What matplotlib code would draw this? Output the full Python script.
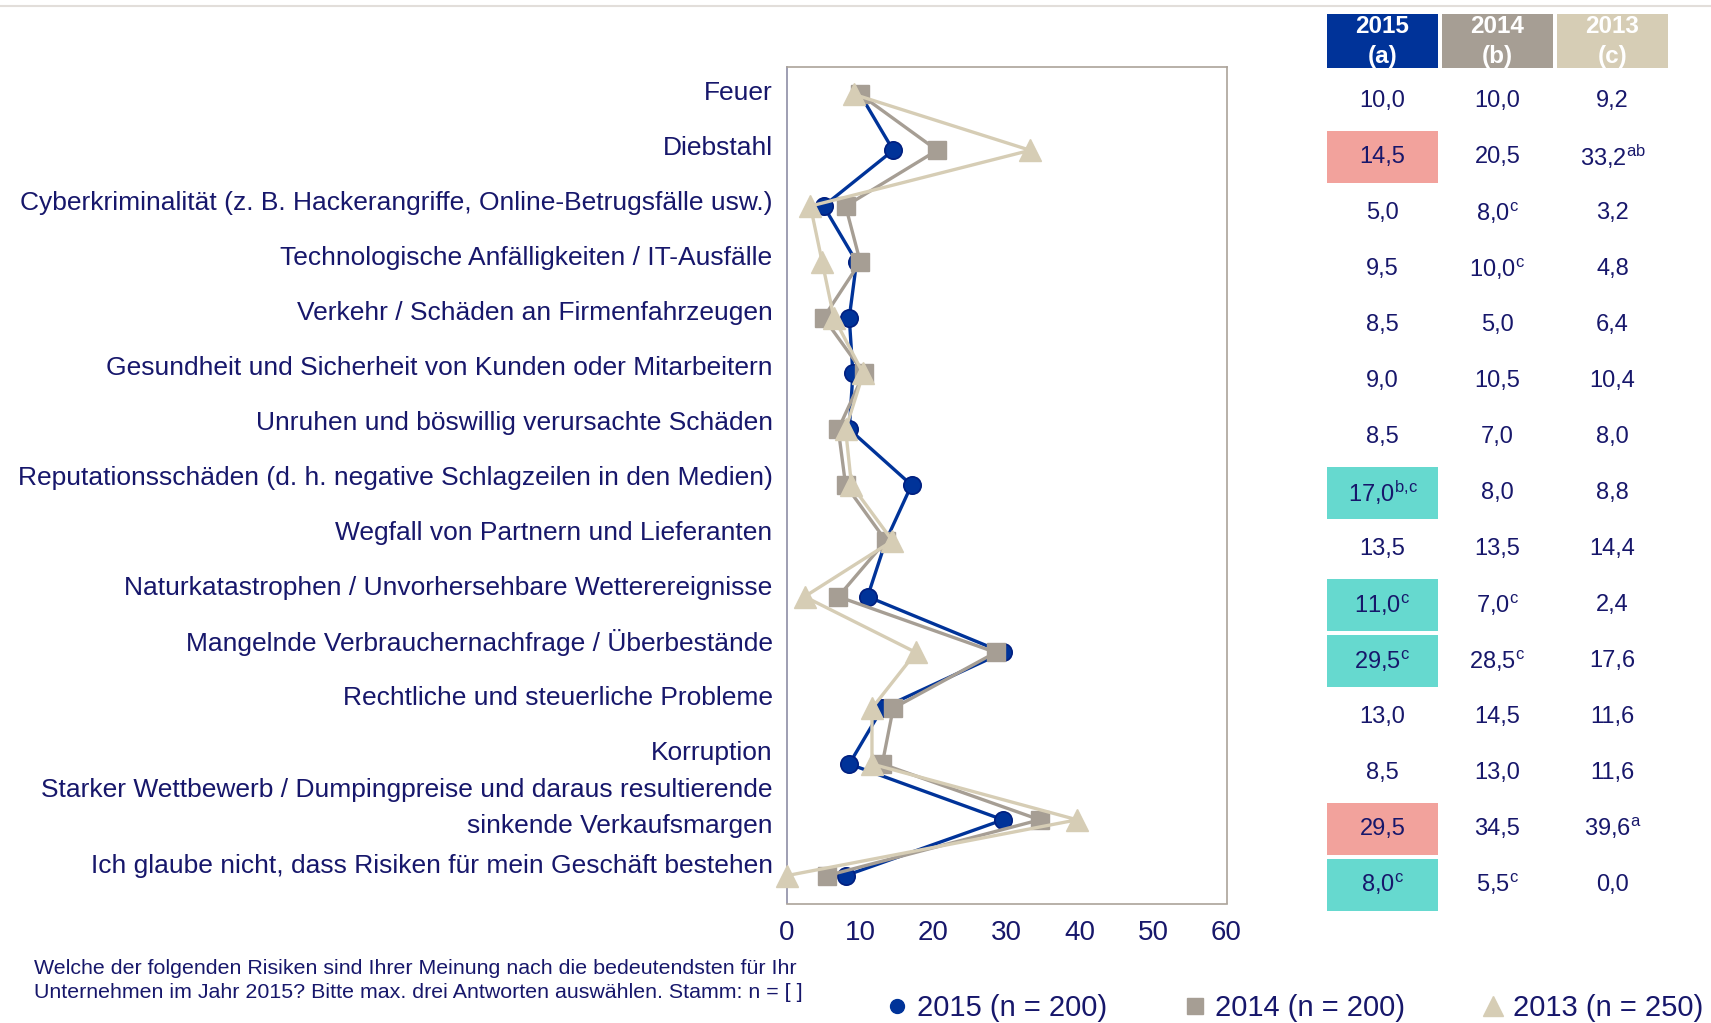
import matplotlib
matplotlib.use("Agg")
import matplotlib.pyplot as plt
from matplotlib.lines import Line2D
from matplotlib.patches import Rectangle
import numpy as np

plt.rcParams['font.family'] = ['Liberation Sans', 'DejaVu Sans']
plt.rcParams['mathtext.fontset'] = 'custom'
plt.rcParams['mathtext.rm'] = 'Liberation Sans'
plt.rcParams['mathtext.it'] = 'Liberation Sans'

categories = [
    "Feuer",
    "Diebstahl",
    "Cyberkriminalität (z. B. Hackerangriffe, Online-Betrugsfälle usw.)",
    "Technologische Anfälligkeiten / IT-Ausfälle",
    "Verkehr / Schäden an Firmenfahrzeugen",
    "Gesundheit und Sicherheit von Kunden oder Mitarbeitern",
    "Unruhen und böswillig verursachte Schäden",
    "Reputationsschäden (d. h. negative Schlagzeilen in den Medien)",
    "Wegfall von Partnern und Lieferanten",
    "Naturkatastrophen / Unvorhersehbare Wetterereignisse",
    "Mangelnde Verbrauchernachfrage / Überbestände",
    "Rechtliche und steuerliche Probleme",
    "Korruption",
    "Starker Wettbewerb / Dumpingpreise und daraus resultierende\nsinkende Verkaufsmargen",
    "Ich glaube nicht, dass Risiken für mein Geschäft bestehen",
]
v2015 = [10.0, 14.5, 5.0, 9.5, 8.5, 9.0, 8.5, 17.0, 13.5, 11.0, 29.5, 13.0, 8.5, 29.5, 8.0]
v2014 = [10.0, 20.5, 8.0, 10.0, 5.0, 10.5, 7.0, 8.0, 13.5, 7.0, 28.5, 14.5, 13.0, 34.5, 5.5]
v2013 = [9.2, 33.2, 3.2, 4.8, 6.4, 10.4, 8.0, 8.8, 14.4, 2.4, 17.6, 11.6, 11.6, 39.6, 0.0]

sup2015 = ["", "", "", "", "", "", "", "b{,}c", "", "c", "c", "", "", "", "c"]
sup2014 = ["", "", "c", "c", "", "", "", "", "", "c", "c", "", "", "", "c"]
sup2013 = ["", "ab", "", "", "", "", "", "", "", "", "", "", "", "a", ""]
# cell highlight for 2015 column: 'r' = significantly lower, 'g' = significantly higher
hl2015 = ["", "r", "", "", "", "", "", "g", "", "g", "g", "", "", "r", "g"]

headers = ["2015\n(a)", "2014\n(b)", "2013\n(c)"]
legend_labels = ["2015 (n = 200)", "2014 (n = 200)", "2013 (n = 250)"]
xticks = [0, 10, 20, 30, 40, 50, 60]
footnote = ("Welche der folgenden Risiken sind Ihrer Meinung nach die bedeutendsten für Ihr\n"
            "Unternehmen im Jahr 2015? Bitte max. drei Antworten auswählen. Stamm: n = [ ]")

C15 = '#003399'
C14 = '#A69E94'
C13 = '#D6CDB5'
NAVY = '#17176B'
PINK = '#F2A29C'
CYAN = '#66D9CF'

W, H = 1711, 1023
fig = plt.figure(figsize=(W / 100, H / 100), dpi=100)

def fx(px):
    return px / W

def fy(py):
    return 1 - py / H

# top thin line
fig.add_artist(Line2D([0, 1], [fy(6), fy(6)], color='#E2DEDA', lw=1.5))

# main chart
ax = fig.add_axes([fx(787), fy(903.5), fx(1226.5) - fx(787), fy(66.6) - fy(903.5)])
n = len(categories)
ypos = np.arange(n)
ax.plot(v2015, ypos, color=C15, lw=2.4, marker='o', ms=12.5, mfc=C15, mec='#001F80', mew=1.2, zorder=3)
ax.plot(v2014, ypos, color=C14, lw=2.4, marker='s', ms=13.5, mfc=C14, mec=C14, zorder=4)
ax.plot(v2013, ypos, color=C13, lw=2.4, marker='^', ms=16, mfc=C13, mec=C13, zorder=5, clip_on=False)
ax.set_xlim(0, 60)
ax.set_ylim(n - 0.5, -0.5)
ax.set_xticks(xticks)
ax.set_xticklabels([str(t) for t in xticks], fontsize=20, color=NAVY)
ax.tick_params(axis='x', length=0, pad=12)
ax.set_yticks([])
for s in ['top', 'right', 'bottom']:
    ax.spines[s].set_color('#ABA39A')
    ax.spines[s].set_linewidth(1.2)
ax.spines['left'].set_color('#8E8EA6')
ax.spines['left'].set_linewidth(1.2)

# category labels
for i, lab in enumerate(categories):
    ypx = 92.8 + 55.0 * i
    if i == n - 1:
        ypx = 866
    fig.text(fx(772.6), fy(ypx), lab, ha='right', va='center', fontsize=19,
             color=NAVY, linespacing=1.6)

# table
tax = fig.add_axes([fx(1325), fy(912.8), fx(1670) - fx(1325), fy(14.4) - fy(912.8)])
tax.set_xlim(0, 3)
tax.set_ylim(14.5, -1.55)
tax.axis('off')
hdr_cols = [C15, C14, C13]
cw, ch = 0.965, 0.93
for j, (h, c) in enumerate(zip(headers, hdr_cols)):
    tax.add_patch(Rectangle((j + 0.5 - cw / 2, -1.57), cw, 0.97, color=c, lw=0))
    tax.text(j + 0.5, -1.06, h, ha='center', va='center', fontsize=17.5, fontweight='bold',
             color='white', linespacing=1.38)

def fmt(v, s):
    t = f"{v:.1f}".replace('.', ',')
    if s:
        t += r"$^{\mathrm{" + s + "}}$"
    return t

cols = [(v2015, sup2015), (v2014, sup2014), (v2013, sup2013)]
for i in range(n):
    if hl2015[i]:
        tax.add_patch(Rectangle((0.5 - cw / 2, i - ch / 2), cw, ch,
                                color=PINK if hl2015[i] == 'r' else CYAN, lw=0))
    for j, (vals, sups) in enumerate(cols):
        tax.text(j + 0.5, i, fmt(vals[i], sups[i]), ha='center', va='center',
                 fontsize=17, color=NAVY)

# footnote
fig.text(fx(34), fy(980.5), footnote, ha='left', va='center', fontsize=15.4,
         color=NAVY, linespacing=1.3)

# legend
handles = [
    Line2D([], [], ls='none', marker='o', ms=10, mfc=C15, mec=C15),
    Line2D([], [], ls='none', marker='s', ms=12, mfc=C14, mec=C14),
    Line2D([], [], ls='none', marker='^', ms=14, mfc=C13, mec=C13),
]
leg = fig.legend(handles, legend_labels, loc='center left', bbox_to_anchor=(fx(885), fy(1008)),
                 ncol=3, frameon=False, fontsize=21, handlelength=0.8, handletextpad=0.3,
                 columnspacing=2.6, borderpad=0, borderaxespad=0)
for t in leg.get_texts():
    t.set_color(NAVY)

fig.savefig("out.png", dpi=100)
